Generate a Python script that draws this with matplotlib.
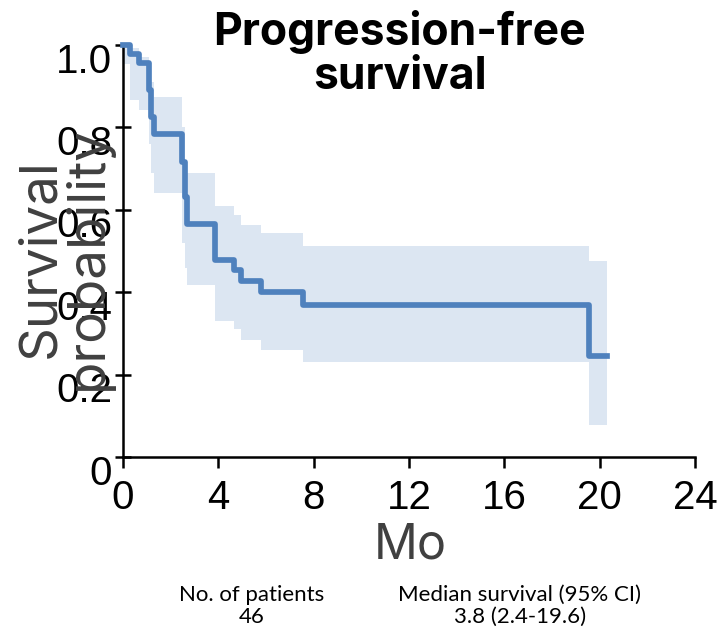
import matplotlib
matplotlib.use("Agg")
import matplotlib.pyplot as plt
import matplotlib.transforms as mtransforms

# Kaplan-Meier estimate, progression-free survival (46 patients)
times = [0, 0.3, 0.7, 1.1, 1.2, 1.3, 2.5, 2.6, 2.7, 3.85, 4.65, 4.95, 5.8, 7.55, 19.55]
surv = [1.0, 0.978, 0.957, 0.891, 0.826, 0.783, 0.717, 0.630, 0.565, 0.478,
        0.454, 0.427, 0.400, 0.369, 0.245]
ci_lo = [0.955, 0.867, 0.842, 0.76, 0.69, 0.64, 0.52, 0.46, 0.417, 0.33,
         0.31, 0.285, 0.26, 0.231, 0.077]
ci_hi = [1.0, 0.993, 0.971, 0.95, 0.91, 0.874, 0.80, 0.72, 0.69, 0.61,
         0.587, 0.563, 0.544, 0.512, 0.475]
t_end = 20.3

xticks = [0, 4, 8, 12, 16, 20, 24]
yticks = [0, 0.2, 0.4, 0.6, 0.8, 1.0]
ytick_labels = ["0", "0.2", "0.4", "0.6", "0.8", "1.0"]

n_patients = "46"
median_txt = "3.8 (2.4-19.6)"

LINE = "#4F81BD"
BAND = "#DCE6F2"
GREY = "#404040"

fig = plt.figure(figsize=(7.18, 6.34), dpi=100)
ax = fig.add_axes([0.171, 0.279, 0.797, 0.650])

# extend the last step out to the final follow-up time
x = times + [t_end]
y = surv + [surv[-1]]
lo = ci_lo + [ci_lo[-1]]
hi = ci_hi + [ci_hi[-1]]

ax.fill_between(x, lo, hi, step="post", color=BAND, linewidth=0)
ax.step(x, y, where="post", color=LINE, lw=4.1, clip_on=False, zorder=3)

ax.set_xlim(0, 24)
ax.set_ylim(0, 1)
for s in ["top", "right"]:
    ax.spines[s].set_visible(False)
for s in ["left", "bottom"]:
    ax.spines[s].set_linewidth(1.8)

ax.set_xticks(xticks)
ax.set_yticks(yticks)
ax.set_yticklabels(ytick_labels)
ax.tick_params(axis="x", direction="out", length=8, width=1.8, pad=8,
               labelsize=29)
ax.tick_params(axis="y", direction="inout", length=11, width=1.8, pad=2,
               labelsize=29)
for lab in ax.get_xticklabels() + ax.get_yticklabels():
    lab.set_fontfamily("Liberation Sans")

# y labels sit a little below their ticks
shift = mtransforms.ScaledTranslation(0, -9 / 72, fig.dpi_scale_trans)
for lab in ax.get_yticklabels():
    lab.set_transform(lab.get_transform() + shift)

fig.text(0.557, 0.915, "Progression-free\nsurvival", ha="center", va="center",
         fontsize=32, fontweight="bold", family="Inter", linespacing=1.05)

fig.text(0.09, 0.593, "Survival\nprobability", rotation=90, ha="center",
         va="center", fontsize=38, color=GREY, family="Inter",
         linespacing=0.92, multialignment="center")

fig.text(0.571, 0.14, "Mo", ha="center", va="center", fontsize=35,
         color=GREY, family="Inter")

fig.text(0.351, 0.044, "No. of patients\n" + n_patients, ha="center",
         va="center", fontsize=16, family="Lato", linespacing=1.1)
fig.text(0.724, 0.044, "Median survival (95% CI)\n" + median_txt, ha="center",
         va="center", fontsize=16, family="Lato", linespacing=1.1)

fig.savefig("out.png", dpi=100)
